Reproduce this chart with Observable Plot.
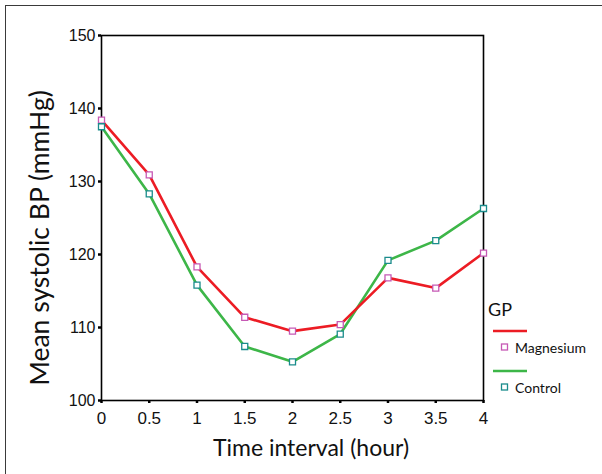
<!DOCTYPE html>
<html>
<head>
<meta charset="utf-8">
<script src="https://cdn.jsdelivr.net/npm/d3@7"></script>
<script src="https://cdn.jsdelivr.net/npm/@observablehq/plot@0.6"></script>
<style>
  html, body { margin: 0; padding: 0; background: #fff; }
  #wrap { position: relative; width: 602px; height: 474px; overflow: hidden; }
  #border { position: absolute; left: 5px; top: 5px; width: 640px; height: 520px; border: 1.5px solid #3a3a3a; box-sizing: border-box; }
  #chart { position: absolute; left: 0; top: 0; }
</style>
</head>
<body>
<div id="wrap"><div id="border"></div><div id="chart"></div></div>
<script>
const hours = [0, 0.5, 1, 1.5, 2, 2.5, 3, 3.5, 4];
const magnesium = [138.4, 130.9, 118.3, 111.4, 109.5, 110.4, 116.8, 115.4, 120.2];
const control = [137.5, 128.3, 115.8, 107.4, 105.3, 109.1, 119.2, 121.9, 126.3];
const groups = ["Magnesium", "Control"];
const xTicks = [0, 0.5, 1, 1.5, 2, 2.5, 3, 3.5, 4];
const yTicks = [100, 110, 120, 130, 140, 150];
const xTitle = "Time interval (hour)";
const yTitle = "Mean systolic BP (mmHg)";
const legendTitle = "GP";

const lineColor = {Magnesium: "#ec1c24", Control: "#3db648"};
const markColor = {Magnesium: "#c659b5", Control: "#1a8c8c"};

const rows = [];
hours.forEach((h, i) => {
  rows.push({hour: h, bp: magnesium[i], group: groups[0]});
  rows.push({hour: h, bp: control[i], group: groups[1]});
});

const tickFont = "Liberation Sans, Arial, sans-serif";
const titleFont = "Lato, 'Open Sans', sans-serif";

const plot = Plot.plot({
  width: 602,
  height: 474,
  marginLeft: 101,
  marginRight: 119,
  marginTop: 35,
  marginBottom: 74,
  style: {background: "transparent", overflow: "visible"},
  x: {domain: [0, 4]},
  y: {domain: [100, 150]},
  marks: [
    Plot.frame({stroke: "#000", strokeWidth: 1.6}),
    Plot.axisY(yTicks, {tickSize: 3, strokeWidth: 2.5, tickPadding: 3, fontSize: 16, fontFamily: tickFont, fill: "#111", label: null, tickFormat: d => String(d)}),
    Plot.axisX(xTicks, {tickSize: 3, strokeWidth: 2.5, tickPadding: 8, fontSize: 17, fontFamily: tickFont, fill: "#111", label: null, tickFormat: d => String(d)}),
    Plot.line(rows.filter(d => d.group === "Control"), {x: "hour", y: "bp", stroke: lineColor.Control, strokeWidth: 2.6}),
    Plot.line(rows.filter(d => d.group === "Magnesium"), {x: "hour", y: "bp", stroke: lineColor.Magnesium, strokeWidth: 2.6}),
    Plot.dot(rows, {x: "hour", y: "bp", symbol: "square", r: 3.4, fill: "#fff", stroke: d => markColor[d.group], strokeWidth: 1.3})
  ]
});

document.getElementById("chart").appendChild(plot);

const svg = d3.select(plot);
// axis titles
svg.append("text").attr("x", 311).attr("y", 456).attr("text-anchor", "middle")
  .attr("font-family", titleFont).attr("font-size", 23).attr("fill", "#111").text(xTitle);
svg.append("text").attr("transform", "translate(49,238) rotate(-90)").attr("text-anchor", "middle")
  .attr("font-family", titleFont).attr("font-size", 26.5).attr("fill", "#111").text(yTitle);

// legend
const lg = svg.append("g").attr("font-family", titleFont).attr("text-anchor", "start");
lg.append("text").attr("x", 488).attr("y", 316).attr("font-size", 18).attr("fill", "#111").text(legendTitle);
groups.forEach((g, i) => {
  const y0 = 331 + i * 40;
  lg.append("line").attr("x1", 493).attr("x2", 527).attr("y1", y0).attr("y2", y0)
    .attr("stroke", lineColor[g]).attr("stroke-width", 2.6);
  lg.append("rect").attr("x", 501.5).attr("y", y0 + 13).attr("width", 6).attr("height", 6)
    .attr("fill", "#fff").attr("stroke", markColor[g]).attr("stroke-width", 1.3);
  lg.append("text").attr("x", 515).attr("y", y0 + 22).attr("font-size", 14).attr("fill", "#111").text(g);
});
</script>
</body>
</html>
